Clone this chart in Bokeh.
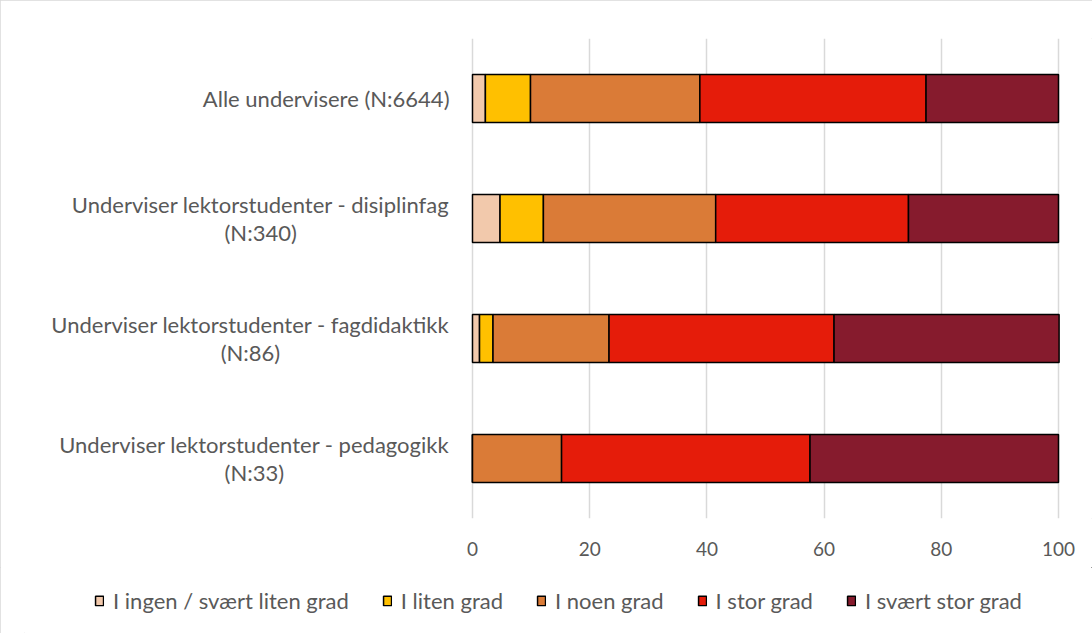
from bokeh.plotting import figure
from bokeh.layouts import column
from bokeh.models import (ColumnDataSource, FactorRange, Range1d, Legend,
                          LegendItem, FixedTicker)
from bokeh.core.properties import value
from bokeh.embed import file_html
from bokeh.resources import INLINE

# ---- data ----
categories = [
    "Alle undervisere (N:6644)",
    "Underviser lektorstudenter - disiplinfag\n(N:340)",
    "Underviser lektorstudenter - fagdidaktikk\n(N:86)",
    "Underviser lektorstudenter - pedagogikk\n(N:33)",
]
series = ["I ingen / svært liten grad", "I liten grad", "I noen grad",
          "I stor grad", "I svært stor grad"]
ingen = [2.2, 4.7, 1.2, 0.0]
liten = [7.7, 7.4, 2.3, 0.0]
noen = [28.9, 29.4, 19.8, 15.2]
stor = [38.6, 32.9, 38.4, 42.4]
svaert_stor = [22.6, 25.6, 38.4, 42.4]
x_ticks = [0, 20, 40, 60, 80, 100]

# ---- style / layout ----
colors = ["#F2C9AC", "#FFC000", "#DA7B37", "#E51C0A", "#861B2D"]
FONT = "Lato"
TXT = "#595959"
W, H = 1092, 633
MAIN_H = 567
FRAME_LEFT = 24                            # shared left border of both plots
ZERO_PX, HUNDRED_PX = 472, 1058            # screen position of 0 and 100
LABEL_GAP_PX = 23                          # gap between labels and axis 0
ppu = (HUNDRED_PX - ZERO_PX) / 100.0
x_start = -(ZERO_PX - FRAME_LEFT) / ppu
x_end = (W - ZERO_PX) / ppu
label_x = -LABEL_GAP_PX / ppu

keys = ["s0", "s1", "s2", "s3", "s4"]
src = ColumnDataSource(dict(cat=categories, s0=ingen, s1=liten, s2=noen,
                            s3=stor, s4=svaert_stor,
                            lx=[label_x] * len(categories)))

p = figure(width=W, height=MAIN_H,
           y_range=FactorRange(factors=list(reversed(categories))),
           x_range=Range1d(x_start, x_end), y_axis_type=None,
           output_backend="svg", toolbar_location=None,
           min_border_left=FRAME_LEFT, min_border_right=0,
           min_border_top=38, min_border_bottom=MAIN_H - 518)
p.outline_line_color = None
p.ygrid.visible = False
p.xgrid.grid_line_color = "#d9d9d9"
p.xgrid.grid_line_width = 1.5
p.xaxis.ticker = FixedTicker(ticks=x_ticks)
p.xaxis.axis_line_color = None
p.xaxis.major_tick_line_color = None
p.xaxis.minor_tick_line_color = None
p.xaxis.major_label_standoff = 17
p.xaxis.major_label_text_font = FONT
p.xaxis.major_label_text_font_size = "19px"
p.xaxis.major_label_text_color = TXT

p.hbar_stack(keys, y="cat", height=0.4, color=colors,
             line_color="black", line_width=1.5, source=src)

# category labels: box anchored right of the axis, lines centred inside it
p.text(x="lx", y="cat", text="cat", source=src, anchor="center_right",
       text_align="center", text_baseline="middle",
       text_font=value(FONT), text_font_size="22px", text_color=TXT,
       text_line_height=1.05)

# ---- legend strip (swatches are off-range stand-ins, only the legend shows) ----
lg = figure(width=W, height=H - MAIN_H, x_range=Range1d(0, 1),
            y_range=Range1d(0, 1), x_axis_type=None, y_axis_type=None,
            output_backend="svg", toolbar_location=None,
            min_border_left=FRAME_LEFT, min_border_right=0,
            min_border_top=0, min_border_bottom=0)
lg.outline_line_color = None
lg.grid.visible = False
swatches = [lg.hbar(y=[50], left=[50], right=[51], height=0.1, fill_color=c,
                    line_color="black", line_width=1.5) for c in colors]
items = [LegendItem(label=s, renderers=[r]) for s, r in zip(series, swatches)]
legend = Legend(items=items, orientation="horizontal", location="center",
                glyph_width=10, glyph_height=12, label_standoff=9, spacing=33,
                padding=0, margin=0, border_line_color=None,
                background_fill_alpha=0, label_text_font=FONT,
                label_text_font_size="22px", label_text_color=TXT)
lg.add_layout(legend)

layout = column(p, lg, spacing=0)
layout.styles = {"outline": "1px solid #d9d9d9", "outline-offset": "-1px"}

open("out.html", "w").write(file_html(layout, INLINE))
